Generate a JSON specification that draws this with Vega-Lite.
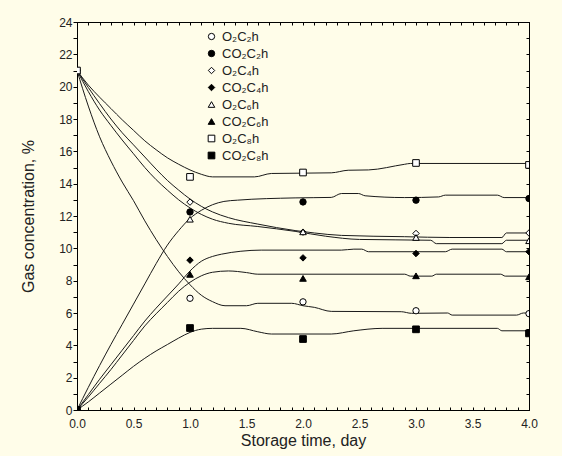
{
 "$schema": "https://vega.github.io/schema/vega-lite/v6.json",
 "width": 452, "height": 388,
 "autosize": {"type": "none"},
 "padding": {"left": 77, "top": 22, "right": 33, "bottom": 46},
 "background": "#FFFDE9",
 "config": {
  "view": {"stroke": "black", "strokeWidth": 1, "fill": "#FFFDE9"},
  "font": "Liberation Sans",
  "axis": {"grid": false, "domainColor": "black", "tickColor": "black", "labelColor": "#222", "titleColor": "#222", "labelFont": "Liberation Sans", "titleFont": "Liberation Sans", "labelFontSize": 12, "titleFontSize": 16, "titleFontWeight": "normal"}
 },
 "datasets": {
  "curves": [
   {"s":"O₂C₂h","x":0,"y":21},{"s":"O₂C₂h","x":0.1,"y":18.8},{"s":"O₂C₂h","x":0.2,"y":16.9},{"s":"O₂C₂h","x":0.3,"y":15.4},{"s":"O₂C₂h","x":0.4,"y":14.1},{"s":"O₂C₂h","x":0.5,"y":12.95},{"s":"O₂C₂h","x":0.6,"y":11.7},{"s":"O₂C₂h","x":0.7,"y":10.55},{"s":"O₂C₂h","x":0.8,"y":9.5},{"s":"O₂C₂h","x":0.9,"y":8.55},{"s":"O₂C₂h","x":1.0,"y":7.75},{"s":"O₂C₂h","x":1.1,"y":7.1},{"s":"O₂C₂h","x":1.2,"y":6.7},{"s":"O₂C₂h","x":1.31,"y":6.45},{"s":"O₂C₂h","x":1.5,"y":6.45},{"s":"O₂C₂h","x":1.6,"y":6.6},{"s":"O₂C₂h","x":1.9,"y":6.6},{"s":"O₂C₂h","x":2.0,"y":6.45},{"s":"O₂C₂h","x":2.1,"y":6.35},{"s":"O₂C₂h","x":2.25,"y":6.1},{"s":"O₂C₂h","x":2.87,"y":6.08},{"s":"O₂C₂h","x":2.96,"y":5.98},{"s":"O₂C₂h","x":3.28,"y":6.0},{"s":"O₂C₂h","x":3.32,"y":5.87},{"s":"O₂C₂h","x":3.89,"y":5.87},{"s":"O₂C₂h","x":3.95,"y":6.0},{"s":"O₂C₂h","x":4.0,"y":6.0},
   {"s":"CO₂C₂h","x":0,"y":0},{"s":"CO₂C₂h","x":0.1,"y":1.4},{"s":"CO₂C₂h","x":0.2,"y":2.75},{"s":"CO₂C₂h","x":0.3,"y":4.05},{"s":"CO₂C₂h","x":0.4,"y":5.3},{"s":"CO₂C₂h","x":0.5,"y":6.55},{"s":"CO₂C₂h","x":0.6,"y":7.8},{"s":"CO₂C₂h","x":0.7,"y":9.05},{"s":"CO₂C₂h","x":0.8,"y":10.2},{"s":"CO₂C₂h","x":0.9,"y":11.1},{"s":"CO₂C₂h","x":1.0,"y":11.85},{"s":"CO₂C₂h","x":1.1,"y":12.35},{"s":"CO₂C₂h","x":1.2,"y":12.7},{"s":"CO₂C₂h","x":1.3,"y":12.9},{"s":"CO₂C₂h","x":1.42,"y":12.98},{"s":"CO₂C₂h","x":1.93,"y":13.12},{"s":"CO₂C₂h","x":2.25,"y":13.15},{"s":"CO₂C₂h","x":2.34,"y":13.39},{"s":"CO₂C₂h","x":2.49,"y":13.39},{"s":"CO₂C₂h","x":2.55,"y":13.25},{"s":"CO₂C₂h","x":2.9,"y":13.14},{"s":"CO₂C₂h","x":3.2,"y":13.18},{"s":"CO₂C₂h","x":3.26,"y":13.29},{"s":"CO₂C₂h","x":3.72,"y":13.29},{"s":"CO₂C₂h","x":3.78,"y":13.14},{"s":"CO₂C₂h","x":4.0,"y":13.14},
   {"s":"O₂C₄h","x":0,"y":21},{"s":"O₂C₄h","x":0.1,"y":19.95},{"s":"O₂C₄h","x":0.2,"y":18.95},{"s":"O₂C₄h","x":0.3,"y":18.0},{"s":"O₂C₄h","x":0.4,"y":17.15},{"s":"O₂C₄h","x":0.5,"y":16.4},{"s":"O₂C₄h","x":0.6,"y":15.65},{"s":"O₂C₄h","x":0.7,"y":14.9},{"s":"O₂C₄h","x":0.8,"y":14.2},{"s":"O₂C₄h","x":0.9,"y":13.6},{"s":"O₂C₄h","x":1.0,"y":13.05},{"s":"O₂C₄h","x":1.1,"y":12.6},{"s":"O₂C₄h","x":1.2,"y":12.25},{"s":"O₂C₄h","x":1.34,"y":11.9},{"s":"O₂C₄h","x":1.6,"y":11.5},{"s":"O₂C₄h","x":1.93,"y":11.1},{"s":"O₂C₄h","x":2.1,"y":10.95},{"s":"O₂C₄h","x":2.34,"y":10.8},{"s":"O₂C₄h","x":2.9,"y":10.72},{"s":"O₂C₄h","x":3.3,"y":10.67},{"s":"O₂C₄h","x":3.76,"y":10.67},{"s":"O₂C₄h","x":3.8,"y":10.95},{"s":"O₂C₄h","x":4.0,"y":10.95},
   {"s":"CO₂C₄h","x":0,"y":0},{"s":"CO₂C₄h","x":0.1,"y":0.95},{"s":"CO₂C₄h","x":0.2,"y":1.9},{"s":"CO₂C₄h","x":0.3,"y":2.8},{"s":"CO₂C₄h","x":0.4,"y":3.7},{"s":"CO₂C₄h","x":0.5,"y":4.6},{"s":"CO₂C₄h","x":0.6,"y":5.5},{"s":"CO₂C₄h","x":0.7,"y":6.3},{"s":"CO₂C₄h","x":0.8,"y":7.05},{"s":"CO₂C₄h","x":0.9,"y":7.8},{"s":"CO₂C₄h","x":1.0,"y":8.6},{"s":"CO₂C₄h","x":1.1,"y":9.2},{"s":"CO₂C₄h","x":1.2,"y":9.5},{"s":"CO₂C₄h","x":1.28,"y":9.64},{"s":"CO₂C₄h","x":1.45,"y":9.82},{"s":"CO₂C₄h","x":1.63,"y":9.89},{"s":"CO₂C₄h","x":2.34,"y":9.89},{"s":"CO₂C₄h","x":2.45,"y":9.95},{"s":"CO₂C₄h","x":2.52,"y":9.95},{"s":"CO₂C₄h","x":2.58,"y":9.79},{"s":"CO₂C₄h","x":3.26,"y":9.79},{"s":"CO₂C₄h","x":3.32,"y":9.95},{"s":"CO₂C₄h","x":3.76,"y":9.95},{"s":"CO₂C₄h","x":3.8,"y":9.79},{"s":"CO₂C₄h","x":4.0,"y":9.79},
   {"s":"O₂C₆h","x":0,"y":21},{"s":"O₂C₆h","x":0.1,"y":19.7},{"s":"O₂C₆h","x":0.2,"y":18.55},{"s":"O₂C₆h","x":0.3,"y":17.6},{"s":"O₂C₆h","x":0.4,"y":16.7},{"s":"O₂C₆h","x":0.5,"y":15.85},{"s":"O₂C₆h","x":0.6,"y":15.0},{"s":"O₂C₆h","x":0.7,"y":14.25},{"s":"O₂C₆h","x":0.8,"y":13.6},{"s":"O₂C₆h","x":0.9,"y":13.0},{"s":"O₂C₆h","x":1.0,"y":12.5},{"s":"O₂C₆h","x":1.1,"y":12.1},{"s":"O₂C₆h","x":1.2,"y":11.8},{"s":"O₂C₆h","x":1.34,"y":11.55},{"s":"O₂C₆h","x":1.6,"y":11.35},{"s":"O₂C₆h","x":1.93,"y":11.05},{"s":"O₂C₆h","x":2.2,"y":10.75},{"s":"O₂C₆h","x":2.5,"y":10.55},{"s":"O₂C₆h","x":3.13,"y":10.5},{"s":"O₂C₆h","x":3.18,"y":10.29},{"s":"O₂C₆h","x":3.76,"y":10.29},{"s":"O₂C₆h","x":3.8,"y":10.5},{"s":"O₂C₆h","x":4.0,"y":10.5},
   {"s":"CO₂C₆h","x":0,"y":0},{"s":"CO₂C₆h","x":0.1,"y":0.8},{"s":"CO₂C₆h","x":0.2,"y":1.65},{"s":"CO₂C₆h","x":0.3,"y":2.5},{"s":"CO₂C₆h","x":0.4,"y":3.4},{"s":"CO₂C₆h","x":0.5,"y":4.3},{"s":"CO₂C₆h","x":0.6,"y":5.2},{"s":"CO₂C₆h","x":0.7,"y":5.95},{"s":"CO₂C₆h","x":0.8,"y":6.65},{"s":"CO₂C₆h","x":0.9,"y":7.35},{"s":"CO₂C₆h","x":1.0,"y":7.9},{"s":"CO₂C₆h","x":1.1,"y":8.3},{"s":"CO₂C₆h","x":1.2,"y":8.52},{"s":"CO₂C₆h","x":1.34,"y":8.6},{"s":"CO₂C₆h","x":1.5,"y":8.5},{"s":"CO₂C₆h","x":1.6,"y":8.4},{"s":"CO₂C₆h","x":2.9,"y":8.4},{"s":"CO₂C₆h","x":2.95,"y":8.28},{"s":"CO₂C₆h","x":3.14,"y":8.28},{"s":"CO₂C₆h","x":3.18,"y":8.4},{"s":"CO₂C₆h","x":3.75,"y":8.4},{"s":"CO₂C₆h","x":3.79,"y":8.28},{"s":"CO₂C₆h","x":4.0,"y":8.28},
   {"s":"O₂C₈h","x":0,"y":21},{"s":"O₂C₈h","x":0.1,"y":20.1},{"s":"O₂C₈h","x":0.2,"y":19.35},{"s":"O₂C₈h","x":0.3,"y":18.65},{"s":"O₂C₈h","x":0.4,"y":17.95},{"s":"O₂C₈h","x":0.5,"y":17.3},{"s":"O₂C₈h","x":0.6,"y":16.65},{"s":"O₂C₈h","x":0.7,"y":16.1},{"s":"O₂C₈h","x":0.8,"y":15.6},{"s":"O₂C₈h","x":0.9,"y":15.2},{"s":"O₂C₈h","x":1.0,"y":14.85},{"s":"O₂C₈h","x":1.1,"y":14.58},{"s":"O₂C₈h","x":1.2,"y":14.42},{"s":"O₂C₈h","x":1.57,"y":14.42},{"s":"O₂C₈h","x":1.72,"y":14.63},{"s":"O₂C₈h","x":2.25,"y":14.67},{"s":"O₂C₈h","x":2.4,"y":14.83},{"s":"O₂C₈h","x":2.58,"y":14.85},{"s":"O₂C₈h","x":2.9,"y":15.2},{"s":"O₂C₈h","x":2.95,"y":15.25},{"s":"O₂C₈h","x":4.0,"y":15.25},
   {"s":"CO₂C₈h","x":0,"y":0},{"s":"CO₂C₈h","x":0.1,"y":0.5},{"s":"CO₂C₈h","x":0.2,"y":1.05},{"s":"CO₂C₈h","x":0.3,"y":1.6},{"s":"CO₂C₈h","x":0.4,"y":2.15},{"s":"CO₂C₈h","x":0.5,"y":2.7},{"s":"CO₂C₈h","x":0.6,"y":3.2},{"s":"CO₂C₈h","x":0.7,"y":3.65},{"s":"CO₂C₈h","x":0.8,"y":4.05},{"s":"CO₂C₈h","x":0.9,"y":4.45},{"s":"CO₂C₈h","x":1.0,"y":4.8},{"s":"CO₂C₈h","x":1.1,"y":5.0},{"s":"CO₂C₈h","x":1.2,"y":5.05},{"s":"CO₂C₈h","x":1.45,"y":5.05},{"s":"CO₂C₈h","x":1.6,"y":4.84},{"s":"CO₂C₈h","x":1.72,"y":4.7},{"s":"CO₂C₈h","x":2.25,"y":4.7},{"s":"CO₂C₈h","x":2.45,"y":4.9},{"s":"CO₂C₈h","x":2.7,"y":5.05},{"s":"CO₂C₈h","x":3.72,"y":5.05},{"s":"CO₂C₈h","x":3.76,"y":4.9},{"s":"CO₂C₈h","x":4.0,"y":4.9}
  ],
  "points": [
   {"s":"O₂C₂h","x":0,"y":21},{"s":"O₂C₂h","x":1,"y":6.91},{"s":"O₂C₂h","x":2,"y":6.69},{"s":"O₂C₂h","x":3,"y":6.14},{"s":"O₂C₂h","x":4,"y":5.96},
   {"s":"CO₂C₂h","x":0,"y":0},{"s":"CO₂C₂h","x":1,"y":12.25},{"s":"CO₂C₂h","x":2,"y":12.87},{"s":"CO₂C₂h","x":3,"y":12.98},{"s":"CO₂C₂h","x":4,"y":13.08},
   {"s":"O₂C₄h","x":0,"y":21},{"s":"O₂C₄h","x":1,"y":12.86},{"s":"O₂C₄h","x":2,"y":11.0},{"s":"O₂C₄h","x":3,"y":10.92},{"s":"O₂C₄h","x":4,"y":10.95},
   {"s":"CO₂C₄h","x":0,"y":0},{"s":"CO₂C₄h","x":1,"y":9.27},{"s":"CO₂C₄h","x":2,"y":9.41},{"s":"CO₂C₄h","x":3,"y":9.68},{"s":"CO₂C₄h","x":4,"y":9.79},
   {"s":"O₂C₆h","x":0,"y":21},{"s":"O₂C₆h","x":1,"y":11.8},{"s":"O₂C₆h","x":2,"y":11.02},{"s":"O₂C₆h","x":3,"y":10.67},{"s":"O₂C₆h","x":4,"y":10.47},
   {"s":"CO₂C₆h","x":0,"y":0},{"s":"CO₂C₆h","x":1,"y":8.39},{"s":"CO₂C₆h","x":2,"y":8.14},{"s":"CO₂C₆h","x":3,"y":8.3},{"s":"CO₂C₆h","x":4,"y":8.24},
   {"s":"O₂C₈h","x":0,"y":21},{"s":"O₂C₈h","x":1,"y":14.42},{"s":"O₂C₈h","x":2,"y":14.69},{"s":"O₂C₈h","x":3,"y":15.28},{"s":"O₂C₈h","x":4,"y":15.16},
   {"s":"CO₂C₈h","x":0,"y":0},{"s":"CO₂C₈h","x":1,"y":5.07},{"s":"CO₂C₈h","x":2,"y":4.39},{"s":"CO₂C₈h","x":3,"y":4.99},{"s":"CO₂C₈h","x":4,"y":4.74}
  ]
 },
 "layer": [
  {
   "data": {"name": "curves"},
   "mark": {"type": "line", "color": "#1a1a1a", "strokeWidth": 1, "interpolate": "monotone", "clip": true},
   "encoding": {
    "x": {"field": "x", "type": "quantitative", "scale": {"domain": [0, 4], "nice": false, "zero": false},
     "axis": {"orient": "bottom", "title": "Storage time, day", "values": [0,0.1,0.2,0.3,0.4,0.5,0.6,0.7,0.8,0.9,1,1.1,1.2,1.3,1.4,1.5,1.6,1.7,1.8,1.9,2,2.1,2.2,2.3,2.4,2.5,2.6,2.7,2.8,2.9,3,3.1,3.2,3.3,3.4,3.5,3.6,3.7,3.8,3.9,4],
      "tickSize": -3, "labelOverlap": false, "labelPadding": 11, "labelFlush": false,
      "labelExpr": "abs(datum.value*2 - round(datum.value*2)) < 0.001 ? format(datum.value, '.1f') : ''", "titlePadding": 3}},
    "y": {"field": "y", "type": "quantitative", "scale": {"domain": [0, 24], "nice": false},
     "axis": {"orient": "left", "title": "Gas concentration, %", "values": [0,1,2,3,4,5,6,7,8,9,10,11,12,13,14,15,16,17,18,19,20,21,22,23,24],
      "tickSize": 4, "labelOverlap": false, "labelPadding": 1, "labelFlush": false,
      "labelExpr": "datum.value % 2 == 0 ? datum.label : ''", "titlePadding": 22}},
    "detail": {"field": "s", "type": "nominal"}
   }
  },
  {
   "data": {"name": "points"},
   "mark": {"type": "point", "filled": true, "stroke": "black", "strokeWidth": 1, "opacity": 1, "clip": true},
   "encoding": {
    "x": {"field": "x", "type": "quantitative", "scale": {"domain": [0, 4], "nice": false, "zero": false},
     "axis": {"orient": "top", "title": null, "labels": false, "values": [0,0.1,0.2,0.3,0.4,0.5,0.6,0.7,0.8,0.9,1,1.1,1.2,1.3,1.4,1.5,1.6,1.7,1.8,1.9,2,2.1,2.2,2.3,2.4,2.5,2.6,2.7,2.8,2.9,3,3.1,3.2,3.3,3.4,3.5,3.6,3.7,3.8,3.9,4], "tickSize": -3}},
    "y": {"field": "y", "type": "quantitative", "scale": {"domain": [0, 24], "nice": false},
     "axis": {"orient": "right", "title": null, "labels": false, "values": [0,1,2,3,4,5,6,7,8,9,10,11,12,13,14,15,16,17,18,19,20,21,22,23,24], "tickSize": -3}},
    "shape": {"field": "s", "type": "nominal", "title": null,
     "scale": {"domain": ["O₂C₂h","CO₂C₂h","O₂C₄h","CO₂C₄h","O₂C₆h","CO₂C₆h","O₂C₈h","CO₂C₈h"], "range": ["circle","circle","diamond","diamond","triangle-up","triangle-up","square","square"]},
     "legend": {"orient": "none", "legendX": 128, "legendY": 8, "labelFontSize": 13, "labelFont": "Liberation Sans", "labelColor": "#222", "rowPadding": 3, "labelOffset": 4, "symbolStrokeColor": "black", "symbolStrokeWidth": 1}},
    "fill": {"field": "s", "type": "nominal", "title": null,
     "scale": {"domain": ["O₂C₂h","CO₂C₂h","O₂C₄h","CO₂C₄h","O₂C₆h","CO₂C₆h","O₂C₈h","CO₂C₈h"], "range": ["white","black","white","black","white","black","white","black"]}},
    "size": {"field": "s", "type": "nominal", "title": null,
     "scale": {"domain": ["O₂C₂h","CO₂C₂h","O₂C₄h","CO₂C₄h","O₂C₆h","CO₂C₆h","O₂C₈h","CO₂C₈h"], "range": [40,45,18,18,20,22,55,55]}}
   }
  }
 ],
 "resolve": {"axis": {"x": "independent", "y": "independent"}}
}
